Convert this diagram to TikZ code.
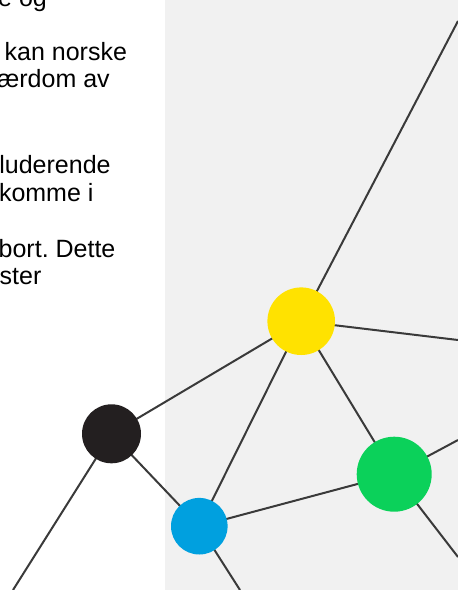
\documentclass[tikz,border=0pt]{standalone}
\usepackage{fontspec}
\setmainfont{Liberation Sans}
\frenchspacing
\definecolor{bggray}{HTML}{F1F1F1}
\definecolor{linegray}{HTML}{3A3A3A}
\definecolor{dotyellow}{HTML}{FFE200}
\definecolor{dotgreen}{HTML}{0BD15A}
\definecolor{dotblue}{HTML}{00A0DF}
\definecolor{dotblack}{HTML}{231F20}
\pgfdeclarelayer{back}
\pgfdeclarelayer{mid}
\pgfsetlayers{back,mid,main}
\begin{document}
\begin{tikzpicture}[x=1pt,y=-1pt,
  dot/.style={circle,inner sep=0pt,minimum size=#1},
  link/.style={draw=linegray,line width=2pt},
  txt/.style={anchor=base west,inner sep=0pt,font=\fontsize{25}{29}\selectfont}]
\useasboundingbox (0,0) rectangle (458,590);
\begin{scope}
\clip (0,0) rectangle (458,590);
\begin{pgfonlayer}{back}
\fill[bggray] (165,0) rectangle (458,590);
\end{pgfonlayer}
% text
\node[txt] (t1) at (-2,6) {e og};
\node[txt] (t2) at (4.5,60) {kan norske};
\node[txt] (t3) at (-3,87) {ærdom av};
\node[txt] (t4) at (-0.8,173) {luderende};
\node[txt] (t5) at (-1.2,201) {komme i};
\node[txt] (t6) at (-1.5,257) {bort. Dette};
\node[txt] (t7) at (-0.5,284) {ster};
% dots
\node[dot=67.6pt,fill=dotyellow] (Y) at (301.2,321.2) {};
\node[dot=59pt,fill=dotblack] (K) at (111.5,433.8) {};
\node[dot=75pt,fill=dotgreen] (G) at (394.2,474.2) {};
\node[dot=56.6pt,fill=dotblue] (B) at (199.3,526.2) {};
% free ends
\coordinate (eTop) at (458,21);
\coordinate (eYR) at (458,340);
\coordinate (eGU) at (458,440);
\coordinate (eGD) at (458,557);
\coordinate (eBD) at (240,590);
\coordinate (eKD) at (13,590);
\begin{pgfonlayer}{mid}
\draw[link] (Y.center) -- (eTop);
\draw[link] (Y.center) -- (eYR);
\draw[link] (Y.center) -- (K.center);
\draw[link] (Y.center) -- (B.center);
\draw[link] (Y.center) -- (G.center);
\draw[link] (K.center) -- (B.center);
\draw[link] (K.center) -- (eKD);
\draw[link] (B.center) -- (G.center);
\draw[link] (B.center) -- (eBD);
\draw[link] (G.center) -- (eGU);
\draw[link] (G.center) -- (eGD);
\end{pgfonlayer}
\end{scope}
\end{tikzpicture}
\end{document}
